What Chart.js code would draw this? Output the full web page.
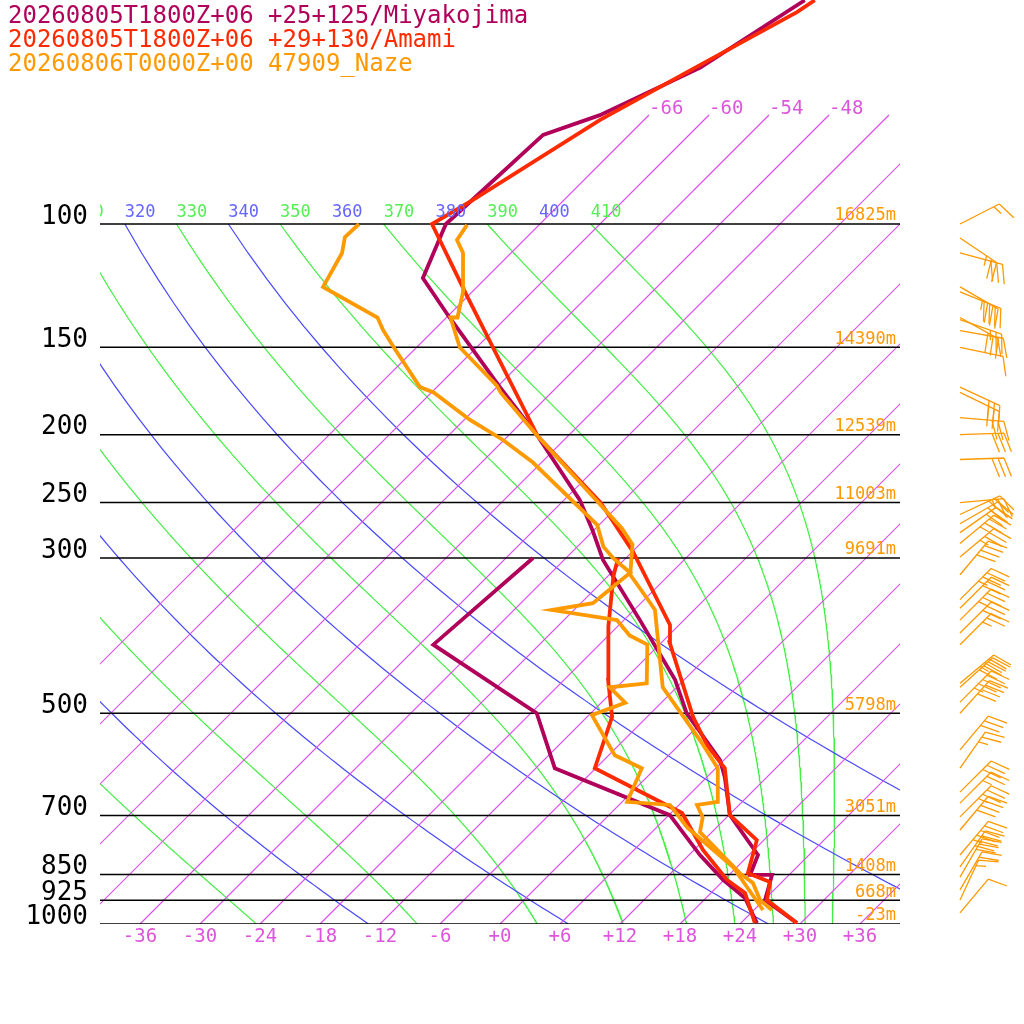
<!DOCTYPE html>
<html>
<head>
<meta charset="utf-8">
<script src="https://cdn.jsdelivr.net/npm/chart.js@4.4.1/dist/chart.umd.min.js"></script>
<style>
  html, body { margin: 0; padding: 0; background: #fff; }
  canvas { display: block; }
</style>
</head>
<body>
<canvas id="skewt" width="1024" height="1024"></canvas>
<script>
// sounding data: pressure (hPa) and temperature (degC)
const miyaTempP = [997, 924, 851, 851, 797, 699, 617, 583, 500, 448, 368, 302, 274, 248, 201, 171, 136, 119.5, 103, 100, 74.6, 69.9, 59.8, 47.9];
const miyaTempT = [29.6, 24.1, 22.3, 20.1, 18.9, 12.1, 7.8, 5.6, -2.4, -6.9, -16.4, -26.1, -30.1, -34.4, -45, -53.7, -65.7, -72.3, -74.9, -75.4, -74.6, -70.9, -65.6, -61.9];
const miyaDewP = [997, 918, 865, 797, 699, 599, 500, 399, 300];
const miyaDewT = [25.6, 21.9, 17.9, 13.1, 6.1, -10.1, -17.4, -34.6, -33.3];

const amamiTempP = [997, 924, 871, 846, 759, 699, 599, 587, 555, 506, 396, 374, 294, 250, 201, 127, 100, 92.4, 71, 59.8, 49.8, 47.9];
const amamiTempT = [29.6, 24.3, 22.8, 19.7, 17.3, 12.1, 6.9, 5.8, 2.8, -1.4, -11.2, -12.9, -23.9, -32.1, -45, -66, -76.8, -75.1, -70.4, -66.1, -61.5, -60.9];
const amamiDewP = [997, 903, 865, 784, 694, 599, 506, 448, 376, 319, 300];
const amamiDewT = [25.4, 21.4, 18.3, 12.9, 7.1, -6.1, -9.5, -13.6, -18.9, -23.4, -24.8];

const nazeTempP = [955, 924, 874, 846, 739, 704, 676, 669, 599, 546, 459, 356, 347, 317, 287, 272, 201, 174, 170, 150, 136, 136, 124, 110, 105.4, 100.3];
const nazeTempT = [25.8, 23.6, 21.2, 18.9, 10.8, 9.6, 7.8, 9.5, 6.2, 1.6, -7.4, -15.9, -17.2, -21.9, -24.7, -27.4, -45, -53.1, -54.2, -61.7, -65.6, -64.9, -67.1, -70.8, -72.7, -73.2];
const nazeDewP = [955, 829, 727, 676, 669, 599, 574, 503, 483, 459, 453, 399, 387, 368, 356, 348, 315, 300, 289, 269, 219, 203.5, 190.5, 174, 171, 150, 141.7, 136, 123, 110, 104.4, 100];
const nazeDewT = [24.9, 17.6, 9, 5.1, 0.5, -1.4, -5.4, -11.7, -9.6, -12.7, -9.4, -13.2, -15.9, -18.7, -26.2, -22.8, -22.1, -25.3, -27.4, -30.2, -42.9, -48.1, -53.4, -59.8, -61.7, -68.3, -71.1, -72.9, -81.4, -82.9, -84.2, -84.1];

// labelled levels
const pressureLevels = [100, 150, 200, 250, 300, 500, 700, 850, 925, 1000];
const heightLabels = ['16825m', '14390m', '12539m', '11003m', '9691m', '5798m', '3051m', '1408m', '668m', '-23m'];
const tempTicks = [-36, -30, -24, -18, -12, -6, 0, 6, 12, 18, 24, 30, 36];
const isotherms = [-66, -60, -54, -48, -42, -36, -30, -24, -18, -12, -6, 0, 6, 12, 18, 24, 30, 36, 42, 48, 54, 60, 66, 72, 78, 84, 90, 96, 102];
const dryThetas = [240, 260, 280, 300, 320, 340, 360, 380, 400];
const moistThetas = [250, 270, 290, 310, 330, 350, 370, 390, 410];

// winds
const windP = [100, 104.7, 110, 123, 125, 136, 137, 142, 150, 171, 174, 189, 200, 217, 250, 260, 268, 276, 286, 299, 317, 344, 354, 368, 384, 399, 453, 459, 482, 500, 564, 599, 648, 672, 703, 734, 797, 829, 857, 894, 924, 964];
const windDir = [63, 124, 105, 120, 112, 119, 109, 100, 102, 115, 116, 95, 88, 88, 85, 65, 60, 55, 50, 50, 40, 45, 45, 45, 45, 45, 50, 48, 45, 42, 40, 35, 45, 45, 45, 40, 40, 35, 30, 30, 25, 40];
const windSpd = [15, 25, 30, 35, 40, 30, 25, 20, 10, 30, 30, 30, 30, 30, 25, 25, 30, 30, 35, 35, 40, 35, 30, 35, 30, 25, 35, 40, 45, 40, 30, 25, 30, 25, 35, 40, 45, 40, 30, 20, 15, 10];

const legendLines = [
  { text: '20260805T1800Z+06 +25+125/Miyakojima', color: '#b0005a' },
  { text: '20260805T1800Z+06 +29+130/Amami', color: '#ff2a00' },
  { text: '20260806T0000Z+00 47909_Naze', color: '#ff9900' }
];

const MONO = '"DejaVu Sans Mono", "Liberation Mono", monospace';
const zOf = p => 70 * Math.log10(1000 / p);
const Z_TOP = 92.4;
const Z_ISO_TOP = 80.9;

function profile(ps, ts) {
  return ps.map((p, i) => ({ x: ts[i] + zOf(p), y: zOf(p) }));
}

function dryAdiabat(theta) {
  const pts = [];
  for (let p = 1000; p >= 100; p -= 10) {
    const t = theta * Math.pow(p / 1000, 0.286) - 273.15;
    pts.push({ x: t + zOf(p), y: zOf(p) });
  }
  return pts;
}

function moistAdiabat(theta) {
  // integrate pseudo-adiabat downward from 100 hPa
  const Rd = 287.04, cp = 1005.7, Lv = 2.501e6, eps = 0.622;
  let T = theta * Math.pow(0.1, 0.286);
  const pts = [];
  const step = 2;
  for (let p = 100; p <= 1000 + 1e-6; p += step) {
    pts.push({ x: T - 273.15 + zOf(p), y: zOf(p) });
    const es = 6.112 * Math.exp(17.67 * (T - 273.15) / (T - 29.65));
    const rs = eps * es / (p - es);
    const dTdp = (Rd * T + Lv * rs) / (p * (cp + Lv * Lv * rs * eps / (Rd * T * T)));
    T += dTdp * step;
  }
  return pts;
}

function gridSet(data, color, width) {
  return { data, borderColor: color, borderWidth: width, pointRadius: 0, fill: false, order: 10 };
}

const datasets = [];
isotherms.forEach(t => datasets.push(gridSet(
  [{ x: t, y: 0 }, { x: t + Z_ISO_TOP, y: Z_ISO_TOP }], '#dc50ec', 1.2)));
dryThetas.forEach(th => datasets.push(gridSet(dryAdiabat(th), '#4848ff', 1.2)));
moistThetas.forEach(th => datasets.push(gridSet(moistAdiabat(th), '#44ee44', 1.2)));
pressureLevels.forEach(p => datasets.push({
  data: [{ x: -40, y: zOf(p) }, { x: 40, y: zOf(p) }],
  borderColor: '#000', borderWidth: 1.5, pointRadius: 0, order: 9
}));

function soundingSet(data, color, order) {
  return { data, borderColor: color, borderWidth: 3.8, pointRadius: 0, fill: false, order, borderJoinStyle: 'miter' };
}
datasets.push(soundingSet(profile(miyaTempP, miyaTempT), '#b0005a', 3));
datasets.push(soundingSet(profile(miyaDewP, miyaDewT), '#b0005a', 3));
datasets.push(soundingSet(profile(amamiTempP, amamiTempT), '#ff2a00', 2));
datasets.push(soundingSet(profile(amamiDewP, amamiDewT), '#ff2a00', 2));
datasets.push(soundingSet(profile(nazeTempP, nazeTempT), '#ff9900', 1));
datasets.push(soundingSet(profile(nazeDewP, nazeDewT), '#ff9900', 1));

const background = {
  id: 'background',
  beforeDraw(chart) {
    const c = chart.ctx;
    c.save();
    c.fillStyle = '#fff';
    c.fillRect(0, 0, chart.width, chart.height);
    c.restore();
  }
};

function drawBarb(c, x0, y0, dir, spd) {
  const a = (dir - 90) * Math.PI / 180;
  const ux = Math.cos(a), uy = Math.sin(a);
  const len = 44;
  const tx = x0 + ux * len, ty = y0 + uy * len;
  c.beginPath();
  c.moveTo(x0, y0);
  c.lineTo(tx, ty);
  const b = a + 70 * Math.PI / 180;
  const bx = Math.cos(b), by = Math.sin(b);
  let rest = Math.round(spd / 5) * 5;
  let d = 0;
  while (rest >= 10) {
    const sx = tx - ux * d, sy = ty - uy * d;
    c.moveTo(sx, sy);
    c.lineTo(sx + bx * 20, sy + by * 20);
    rest -= 10;
    d += 6;
  }
  if (rest >= 5) {
    const sx = tx - ux * d, sy = ty - uy * d;
    c.moveTo(sx, sy);
    c.lineTo(sx + bx * 10, sy + by * 10);
  }
  c.stroke();
}

const labels = {
  id: 'labels',
  afterDraw(chart) {
    const c = chart.ctx;
    const xs = chart.scales.x, ys = chart.scales.y;
    const area = chart.chartArea;
    c.save();
    c.textBaseline = 'middle';

    // pressure labels
    c.font = '26px ' + MONO;
    c.fillStyle = '#000';
    c.textAlign = 'right';
    pressureLevels.forEach(p => {
      c.fillText(String(p), 88, ys.getPixelForValue(zOf(p)) - 7);
    });

    // height labels
    c.font = '17px ' + MONO;
    c.fillStyle = '#ff9900';
    pressureLevels.forEach((p, i) => {
      c.fillText(heightLabels[i], 896, ys.getPixelForValue(zOf(p)) - 8);
    });

    // bottom temperature ticks
    c.font = '19px ' + MONO;
    c.fillStyle = '#dd55dd';
    c.textAlign = 'center';
    tempTicks.forEach(t => {
      const s = t < 0 ? String(t) : '+' + t;
      c.fillText(s, xs.getPixelForValue(t), 937);
    });

    // isotherm labels at top
    c.textAlign = 'left';
    c.font = '19px ' + MONO;
    isotherms.forEach(t => {
      const px = xs.getPixelForValue(t + Z_ISO_TOP);
      if (px >= area.left && px < area.right - 40) {
        c.fillText(String(t), px, ys.getPixelForValue(Z_ISO_TOP) - 6);
      }
    });

    // adiabat labels on the 100 hPa line
    c.save();
    c.beginPath();
    c.rect(area.left, 0, area.right - area.left, area.bottom);
    c.clip();
    c.font = '17px ' + MONO;
    const y100 = ys.getPixelForValue(zOf(100)) - 11;
    dryThetas.forEach(th => {
      const t = th * Math.pow(0.1, 0.286) - 273.15;
      c.fillStyle = '#6666ff';
      c.fillText(String(th), xs.getPixelForValue(t + zOf(100)), y100);
    });
    moistThetas.forEach(th => {
      const t = th * Math.pow(0.1, 0.286) - 273.15;
      c.fillStyle = '#55ee55';
      c.fillText(String(th), xs.getPixelForValue(t + zOf(100)), y100);
    });
    c.restore();

    // legend
    c.font = '24px ' + MONO;
    legendLines.forEach((l, i) => {
      c.fillStyle = l.color;
      c.fillText(l.text, 8, 17 + i * 24);
    });

    // wind barbs
    c.strokeStyle = '#ff9900';
    c.lineWidth = 1.3;
    windP.forEach((p, i) => {
      drawBarb(c, 960, ys.getPixelForValue(zOf(p)), windDir[i], windSpd[i]);
    });
    c.restore();
  }
};

new Chart(document.getElementById('skewt'), {
  type: 'line',
  data: { datasets },
  options: {
    responsive: false,
    animation: false,
    parsing: false,
    layout: { padding: { left: 100, right: 124, top: 0, bottom: 100 } },
    plugins: { legend: { display: false }, tooltip: { enabled: false } },
    elements: { line: { tension: 0 } },
    scales: {
      x: { type: 'linear', min: -40, max: 40, display: false },
      y: { type: 'linear', min: 0, max: Z_TOP, display: false }
    }
  },
  plugins: [background, labels]
});
</script>
</body>
</html>
